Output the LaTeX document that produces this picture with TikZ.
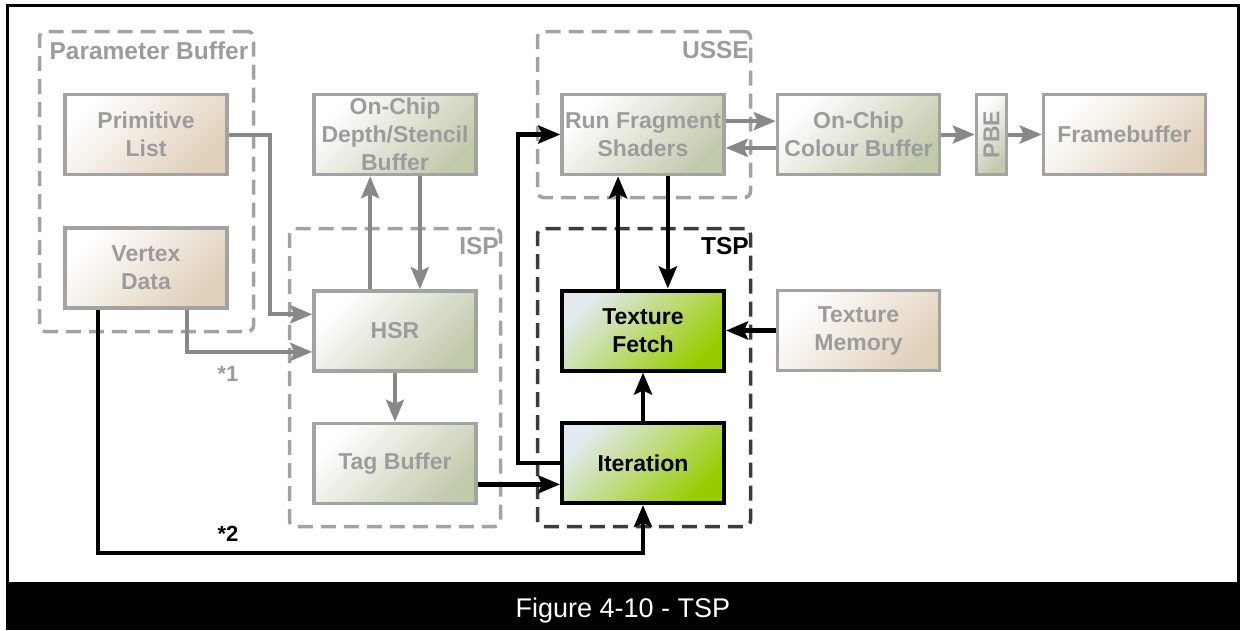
\documentclass[tikz,border=0pt]{standalone}
\usepackage{fontspec}
\setmainfont{Liberation Sans}
\usetikzlibrary{arrows.meta,calc}

\definecolor{boxgray}{HTML}{A3A3A3}
\definecolor{txtgray}{HTML}{9C9C9C}
\definecolor{linegray}{HTML}{888888}
\definecolor{grpgray}{HTML}{A3A3A3}
\definecolor{grpdark}{HTML}{3C3C3C}
\definecolor{tanend}{HTML}{E0D0BA}
\definecolor{sageend}{HTML}{C2CAAC}
\definecolor{greenstart}{HTML}{E2EAF0}
\definecolor{greenend}{HTML}{99CC00}

\begin{document}
\begin{tikzpicture}[x=1pt,y=-1pt,
  boxfont/.style={font=\fontsize{23}{28}\selectfont\bfseries},
  blockbase/.style={rectangle, boxfont, align=center, inner sep=0pt,
    minimum width=162pt, minimum height=80pt},
  tanbox/.style={blockbase, draw=boxgray, line width=3.5pt, text=txtgray,
    left color=white, right color=tanend, shading angle=45},
  sagebox/.style={blockbase, draw=boxgray, line width=3.5pt, text=txtgray,
    left color=white, right color=sageend, shading angle=45},
  greenbox/.style={blockbase, draw=black, line width=4pt, text=black,
    left color=greenstart, right color=greenend, shading angle=45},
  group/.style={rectangle, draw=grpgray, line width=3.5pt, rounded corners=6pt,
    dash pattern=on 15pt off 8pt, inner sep=0pt},
  grouplabel/.style={font=\fontsize{24.5}{28}\selectfont\bfseries, text=txtgray, inner sep=0pt},
  tip/.style={-{Stealth[length=22pt,width=18pt,inset=4pt]}},
  grayflow/.style={draw=linegray, line width=4pt, tip},
  blackflow/.style={draw=black, line width=4.5pt, tip},
]
\useasboundingbox (0,0) rectangle (1240,630);

% frame and caption bar
\draw[line width=3pt] (7,5.5) rectangle (1238.5,600);
\fill[black] (5.5,582) rectangle (1240,630);
\node[text=white, font=\fontsize{27}{32}\selectfont, anchor=base] (caption) at (623,617) {Figure 4-10 - TSP};

% dashed groupings
\node[group, minimum width=214pt, minimum height=300pt] (pbgrp) at (146.5,181.5) {};
\node[group, minimum width=211pt, minimum height=298pt] (ispgrp) at (395,377.5) {};
\node[group, minimum width=213pt, minimum height=166pt] (ussegrp) at (644,114.5) {};
\node[group, draw=grpdark, minimum width=213pt, minimum height=298pt] (tspgrp) at (644,377.5) {};

\node[grouplabel] (pblabel) at (149,51) {Parameter Buffer};
\node[grouplabel, anchor=east] (isplabel) at (499,246) {ISP};
\node[grouplabel, anchor=east] (usselabel) at (749,50) {USSE};
\node[grouplabel, anchor=east, text=black] (tsplabel) at (749,246) {TSP};

% blocks
\node[tanbox] (pl) at (146,134.5) {Primitive\\List};
\node[tanbox] (vd) at (146,268) {Vertex\\Data};
\node[sagebox] (ds) at (395,134.5) {On-Chip\\Depth/Stencil\\Buffer};
\node[sagebox] (hsr) at (395,331) {HSR};
\node[sagebox] (tag) at (395,463.5) {Tag Buffer};
\node[sagebox] (rfs) at (643,134.5) {Run Fragment\\Shaders};
\node[greenbox] (tf) at (643,330.5) {Texture\\Fetch};
\node[greenbox] (it) at (643,463) {Iteration};
\node[sagebox] (cb) at (858.5,134.5) {On-Chip\\Colour Buffer};
\node[sagebox, rotate=90, minimum width=80pt, minimum height=30pt] (pbe) at (991.5,134.5) {PBE};
\node[tanbox] (fb) at (1124.5,134.5) {Framebuffer};
\node[tanbox] (tm) at (858.5,330.5) {Texture\\Memory};

% anchor points along block edges
\coordinate (vdA) at ($(vd.south west)!0.21!(vd.south east)$);
\coordinate (vdB) at ($(vd.south west)!0.75!(vd.south east)$);
\coordinate (hsrA) at ($(hsr.north west)!0.3!(hsr.south west)$);
\coordinate (hsrB) at ($(hsr.north west)!0.75!(hsr.south west)$);
\coordinate (hsrUp) at ($(hsr.north west)!0.35!(hsr.north east)$);
\coordinate (dsDown) at ($(ds.south west)!0.65!(ds.south east)$);
\coordinate (tagOut) at ($(tag.north east)!0.75!(tag.south east)$);
\coordinate (tfUp) at ($(tf.north west)!0.35!(tf.north east)$);
\coordinate (rfsDown) at ($(rfs.south west)!0.65!(rfs.south east)$);
\coordinate (rfsOut) at ($(rfs.north east)!0.34!(rfs.south east)$);
\coordinate (cbBack) at ($(cb.north west)!0.66!(cb.south west)$);

% parameter fetch into HSR
\draw[grayflow] (pl.east) -- ++(41,0) |- (hsrA);
\draw[grayflow] (vdB) |- (hsrB);
\node[font=\fontsize{22}{24}\selectfont\bfseries, text=txtgray] (star1) at (228,374) {*1};

% ISP traffic
\draw[grayflow] (hsrUp) -- (hsrUp |- ds.south);
\draw[grayflow] (dsDown) -- (dsDown |- hsr.north);
\draw[grayflow] (hsr.south) -- (tag.north);

% TSP traffic
\draw[blackflow] (tagOut) -- (tagOut -| it.west);
\draw[blackflow] (it.west) -- ++(-42,0) |- (rfs.west);
\draw[blackflow] (vdA) -- (vdA |- 0,553) -| (it.south);
\node[font=\fontsize{22}{24}\selectfont\bfseries] (star2) at (228,534) {*2};
\draw[blackflow] (it.north) -- (tf.south);
\draw[blackflow] (tfUp) -- (tfUp |- rfs.south);
\draw[blackflow] (rfsDown) -- (rfsDown |- tf.north);
\draw[blackflow] (tm.west) -- (tf.east);

% pixel output path
\draw[grayflow] (rfsOut) -- (rfsOut -| cb.west);
\draw[grayflow] (cbBack) -- (cbBack -| rfs.east);
\draw[grayflow] (cb.east) -- (pbe.north);
\draw[grayflow] (pbe.south) -- (fb.west);
\end{tikzpicture}
\end{document}
